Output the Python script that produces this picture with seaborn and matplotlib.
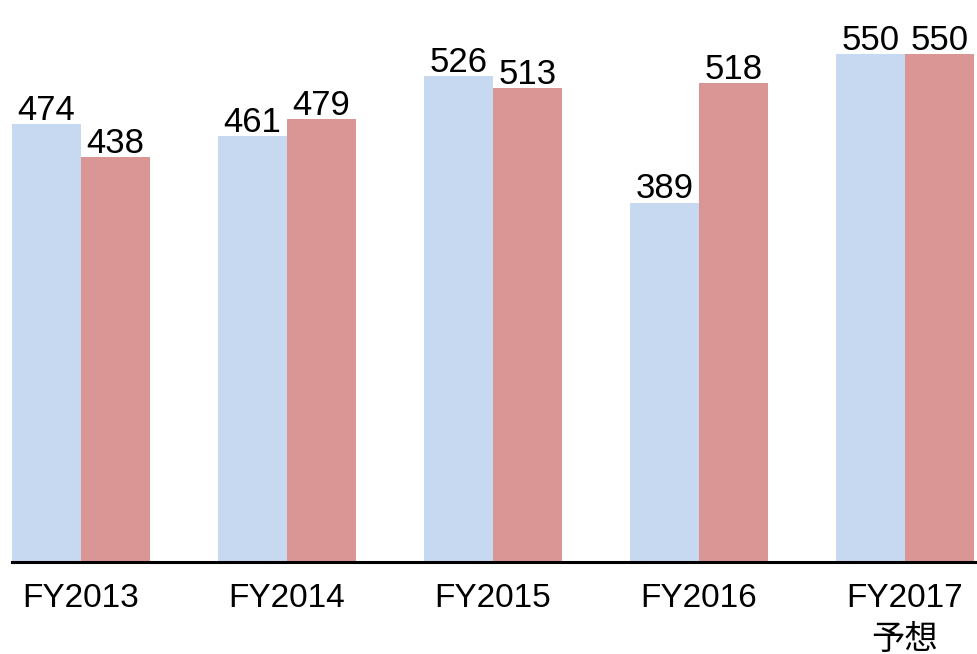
import matplotlib
matplotlib.use("Agg")
import matplotlib.pyplot as plt
import seaborn as sns
import pandas as pd

categories = ["FY2013", "FY2014", "FY2015", "FY2016", "FY2017\n予想"]
series_names = ["A", "B"]
series_a = [474, 461, 526, 389, 550]
series_b = [438, 479, 513, 518, 550]
colors = ["#C6D9F0", "#D99694"]

df = pd.DataFrame({
    "cat": categories * 2,
    "series": [series_names[0]] * 5 + [series_names[1]] * 5,
    "value": series_a + series_b,
})

sns.set_style("white")
plt.rcParams["font.family"] = ["Liberation Sans", "Noto Sans CJK JP", "DejaVu Sans"]

fig = plt.figure(figsize=(9.77, 6.54), dpi=100)
ax = fig.add_axes([12 / 977, (654 - 562) / 654, 1 - 12 / 977, 562 / 654])

sns.barplot(data=df, x="cat", y="value", hue="series", palette=colors,
            width=0.67, saturation=1, ax=ax, legend=False, errorbar=None,
            linewidth=0, edgecolor="none")

for c in ax.containers:
    ax.bar_label(c, fmt="%d", padding=-2, fontsize=25, color="black")

ax.set_xlim(-0.335, 4.35)
ax.set_ylim(0, 608.2)
ax.set_xlabel("")
ax.set_ylabel("")
ax.set_yticks([])
ax.tick_params(axis="x", length=0, pad=15, labelsize=24, labelcolor="black")
for s in ["left", "right", "top"]:
    ax.spines[s].set_visible(False)
ax.spines["bottom"].set_color("black")
ax.spines["bottom"].set_linewidth(2.2)
for t in ax.get_xticklabels():
    t.set_linespacing(1.45)

fig.savefig("out.png", dpi=100)
